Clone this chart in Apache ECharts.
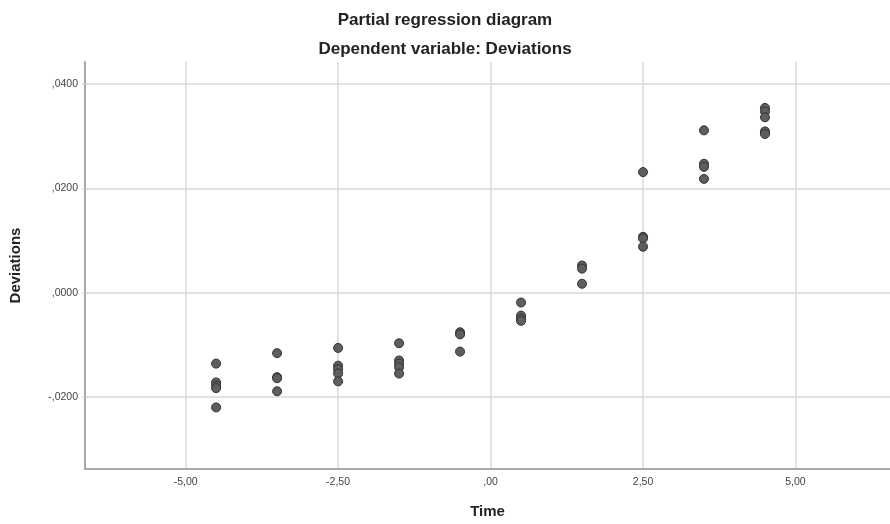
<!DOCTYPE html>
<html>
<head>
<meta charset="utf-8">
<script src="https://cdn.jsdelivr.net/npm/echarts@6/dist/echarts.min.js"></script>
<style>html,body{margin:0;padding:0;background:#fff}#c{width:890px;height:524px}</style>
</head>
<body>
<div id="c"></div>
<script>
const titleText = 'Partial regression diagram';
const subtitleText = 'Dependent variable: Deviations';
const xName = 'Time';
const yName = 'Deviations';
const xTicks = [-5, -2.5, 0, 2.5, 5];
const yTicks = [-0.02, 0, 0.02, 0.04];
const xLabels = ['-5,00', '-2,50', ',00', '2,50', '5,00'];
const yLabels = ['-,0200', ',0000', ',0200', ',0400'];
const timeValues = [-4.5, -3.5, -2.5, -1.5, -0.5, 0.5, 1.5, 2.5, 3.5, 4.5];
const deviationGroups = [
  [-0.0136, -0.0172, -0.0178, -0.0183, -0.0220],
  [-0.0116, -0.0162, -0.0164, -0.0189],
  [-0.0106, -0.0140, -0.0147, -0.0155, -0.0170],
  [-0.0097, -0.0130, -0.0136, -0.0143, -0.0155],
  [-0.0076, -0.0080, -0.0113],
  [-0.0019, -0.0044, -0.0050, -0.0054],
  [0.0052, 0.0046, 0.0017],
  [0.0231, 0.0107, 0.0104, 0.0088],
  [0.0311, 0.0247, 0.0241, 0.0218],
  [0.0354, 0.0347, 0.0336, 0.0309, 0.0304]
];
const points = [];
timeValues.forEach((t, i) => deviationGroups[i].forEach(v => points.push([t, v])));

const chart = echarts.init(document.getElementById('c'));
const fmt = (labels, ticks) => v => {
  const i = ticks.findIndex(t => Math.abs(t - v) < 1e-9);
  return i >= 0 ? labels[i] : '';
};
const titleStyle = { fontFamily: 'Liberation Sans', fontSize: 17, fontWeight: 'bold', color: '#222' };
chart.setOption({
  animation: false,
  backgroundColor: '#fff',
  title: [
    { text: titleText, left: 'center', top: 7, textStyle: titleStyle },
    { text: subtitleText, left: 'center', top: 36, textStyle: titleStyle }
  ],
  grid: { left: 82, right: 0, top: 62, bottom: 55 },
  xAxis: {
    type: 'value', min: -6.65, max: 6.55,
    name: xName, nameLocation: 'middle', nameGap: 35,
    nameTextStyle: { fontFamily: 'Liberation Sans', fontSize: 15, fontWeight: 'bold', color: '#222' },
    axisLine: { show: true, onZero: false, lineStyle: { color: '#a8a8a8', width: 2 } },
    axisTick: { show: false, customValues: xTicks },
    axisLabel: { customValues: xTicks, formatter: fmt(xLabels, xTicks), fontFamily: 'Liberation Sans', fontSize: 10.5, color: '#444', margin: 8 },
    splitLine: { show: true, lineStyle: { color: '#d9d9d9', width: 1.5 } }
  },
  yAxis: {
    type: 'value', min: -0.0338, max: 0.0442,
    name: yName, nameLocation: 'middle', nameGap: 62,
    nameTextStyle: { fontFamily: 'Liberation Sans', fontSize: 15, fontWeight: 'bold', color: '#222' },
    axisLine: { show: true, onZero: false, lineStyle: { color: '#a8a8a8', width: 2 } },
    axisTick: { show: true, length: 3, customValues: yTicks, lineStyle: { color: '#d9d9d9', width: 1.5 } },
    axisLabel: { customValues: yTicks, formatter: fmt(yLabels, yTicks), fontFamily: 'Liberation Sans', fontSize: 10.5, color: '#444', margin: 7 },
    splitLine: { show: true, lineStyle: { color: '#d9d9d9', width: 1.5 } }
  },
  series: [{
    type: 'scatter',
    data: points,
    symbolSize: 9,
    itemStyle: { color: '#5e5e5e', borderColor: '#333', borderWidth: 1, opacity: 1 }
  }]
});
</script>
</body>
</html>
